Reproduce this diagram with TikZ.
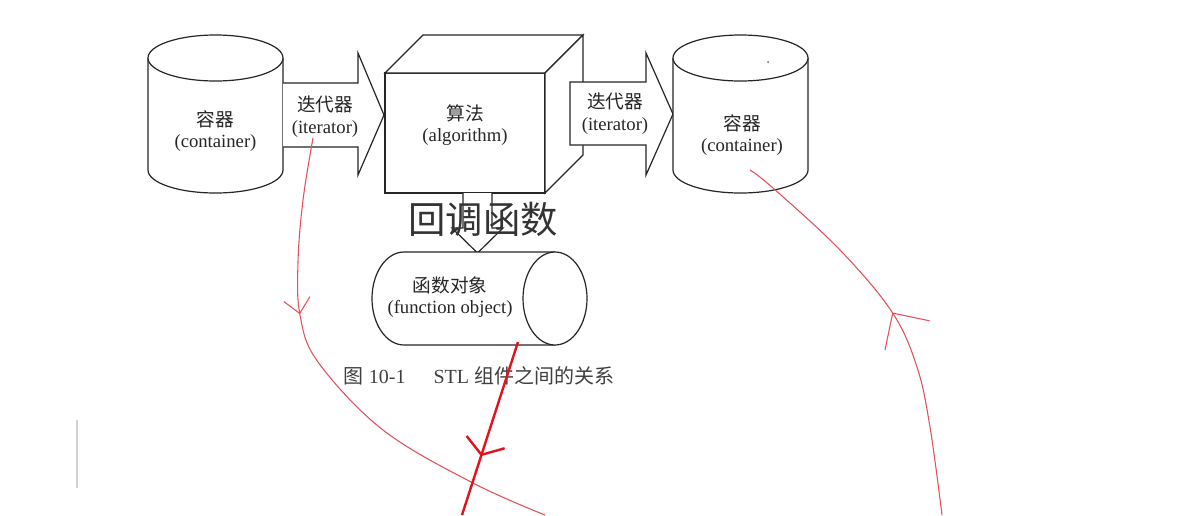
\documentclass[tikz,border=0pt]{standalone}
\usepackage{fontspec}
\setmainfont{Liberation Serif}
\newfontfamily\cjk{Noto Sans CJK SC}
\usetikzlibrary{arrows.meta,decorations.markings}
\definecolor{penred}{HTML}{E5505A}
\definecolor{inkred}{HTML}{E3121C}
\begin{document}
\begin{tikzpicture}[x=0.75pt,y=-0.75pt,
  outline/.style={draw=black!85,line width=0.9pt,fill=white},
  lbl/.style={align=center,text=black!85,font=\fontsize{14pt}{16pt}\selectfont},
  barbmark/.style n args={3}{postaction={decorate},decoration={markings,
      mark=at position #1 with {\arrow{Straight Barb[length=#2,width=#3]}}}},
  redpen/.style={color=penred,line width=0.8pt}]
  \useasboundingbox[fill=white] (0,0) rectangle (1203,515);
  % left container
  \draw[outline] (148,58) -- (148,170) arc (180:0:67.5 and 23) -- (283,58);
  \draw[outline] (215.5,58) ellipse (67.5 and 23);
  \node[lbl] (contL) at (215.5,131) {{\cjk 容器}\\(container)};
  % algorithm cube
  \draw[outline] (385,73) rectangle (545,193);
  \draw[outline] (385,73) -- (423,35) -- (583,35) -- (545,73) -- cycle;
  \draw[outline] (545,73) -- (583,35) -- (583,155) -- (545,193) -- cycle;
  \node[lbl] (algo) at (465,125) {{\cjk 算法}\\(algorithm)};
  % iterator arrows
  \draw[outline] (283,83) -- (358,83) -- (358,53) -- (384,115) -- (358,175)
    -- (358,147) -- (283,147);
  \node[lbl] (itL) at (325,116.5) {{\cjk 迭代器}\\(iterator)};
  \draw[outline] (570,82) -- (646,82) -- (646,53) -- (673,114) -- (646,175)
    -- (646,145) -- (570,145) -- cycle;
  \node[lbl] (itR) at (615,113.5) {{\cjk 迭代器}\\(iterator)};
  % right container
  \draw[outline] (673,58) -- (673,170) arc (180:0:67.5 and 23) -- (808,58);
  \draw[outline] (740.5,58) ellipse (67.5 and 23);
  \fill[black!60] (768,62) circle (1);
  \node[lbl] (contR) at (742,135) {{\cjk 容器}\\(container)};
  % arrow down to function object
  \draw[outline] (463,193) -- (463,228) -- (452,228) -- (477.5,253) -- (503,228)
    -- (492,228) -- (492,193);
  % function object
  \draw[outline] (555,252) -- (404,252) arc (270:90:32 and 46.5) -- (555,345);
  \draw[outline] (555,298.5) ellipse (32 and 46.5);
  \node[lbl] (funcobj) at (450,297) {{\cjk 函数对象}\\(function object)};
  \node[text=black!80,font=\cjk\fontsize{28pt}{30pt}\selectfont] (callback)
    at (483,219) {回调函数};
  \node[text=black!75,font=\fontsize{15pt}{17pt}\selectfont] (caption) at (479,376)
    {{\cjk 图} 10-1\hspace{1.4em}STL {\cjk 组件之间的关系}};
  % scan mark
  \draw[black!18,line width=1.5pt] (77,420) -- (77,488);
  % red pen strokes
  \coordinate (penL) at (313,138);
  \coordinate (penLend) at (545,515);
  \coordinate (penM) at (518,342);
  \coordinate (penMend) at (462,515);
  \coordinate (penR) at (942,515);
  \coordinate (penRend) at (750,170);
  \draw[redpen,barbmark={0.35}{11pt}{20pt}] plot[smooth,tension=0.6] coordinates
    {(penL) (303,200) (298,262) (300,315) (318,362) (383,430) (473,483) (penLend)};
  \draw[inkred,line width=1.8pt,barbmark={0.66}{10pt}{30pt}] (penM) -- (penMend);
  \draw[redpen,barbmark={0.51}{20pt}{40pt}] plot[smooth,tension=0.6] coordinates
    {(penR) (930,427) (917,367) (892,312) (840,250) (773,188) (penRend)};
\end{tikzpicture}
\end{document}
